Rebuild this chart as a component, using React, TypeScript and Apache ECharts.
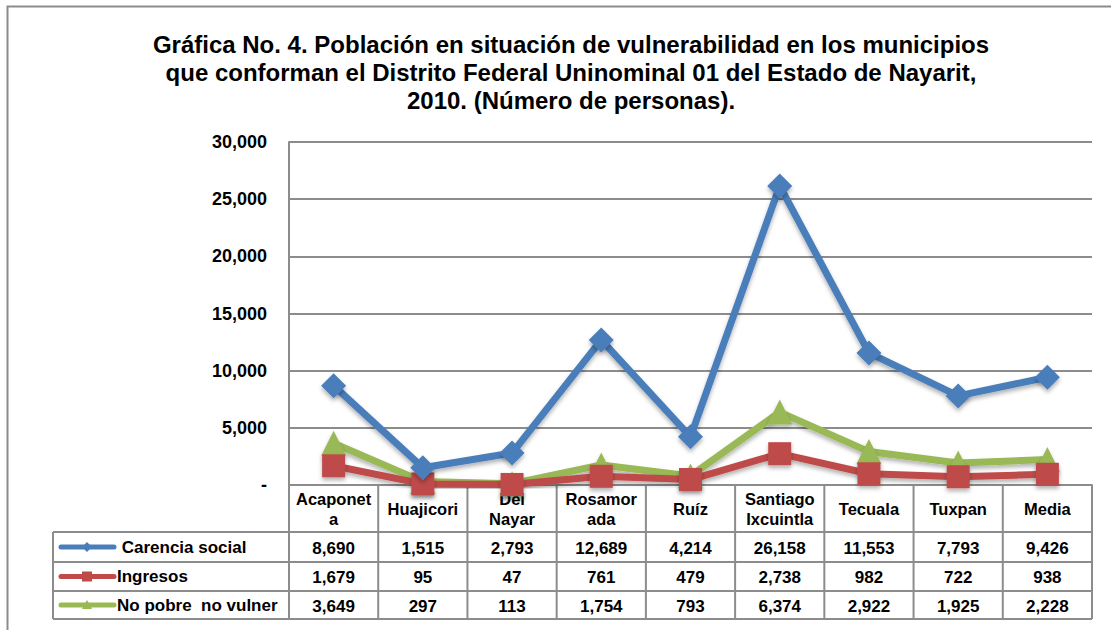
import React, { useEffect, useRef } from "react";
import * as echarts from "echarts";

const categories = ["Acaponet\na", "Huajicori", "Del\nNayar", "Rosamor\nada", "Ruíz", "Santiago\nIxcuintla", "Tecuala", "Tuxpan", "Media"];
const seriesNames = [" Carencia social", "Ingresos", "No pobre  no vulner"];
const carencia = [8690, 1515, 2793, 12689, 4214, 26158, 11553, 7793, 9426];
const ingresos = [1679, 95, 47, 761, 479, 2738, 982, 722, 938];
const noPobre = [3649, 297, 113, 1754, 793, 6374, 2922, 1925, 2228];
const titleText = "Gráfica No. 4. Población en situación de vulnerabilidad en los municipios\nque conforman el Distrito Federal Uninominal 01 del Estado de Nayarit,\n2010. (Número de personas).";

const colors = ["#4A7EBB", "#BE4B48", "#98B954"];
const symbols = ["diamond", "rect", "triangle"];

const fmt = (v: number) => (v === 0 ? "-" : v.toLocaleString("en-US"));

export default function App() {
  const ref = useRef<HTMLDivElement>(null);
  useEffect(() => {
    const chart = echarts.init(ref.current!, null, { renderer: "svg" });
    const W = 1111, H = 630;
    const left = 289, right = 1092, top = 142, bottom = 485;
    const rowLines = [532, 562, 591, 619];
    const tableLeft = 53;
    const allData = [carencia, ingresos, noPobre];
    const colW = (right - left) / categories.length;
    const gray = "#8C8C8C";
    const font = "Arial, 'Liberation Sans', sans-serif";

    const graphics: any[] = [];
    graphics.push({ type: "rect", shape: { x: 7.5, y: 6.5, width: 1200, height: 700 }, style: { fill: "none", stroke: gray, lineWidth: 2 }, silent: true, z: 0 });
    rowLines.forEach((y) => {
      graphics.push({ type: "line", shape: { x1: tableLeft, y1: y, x2: right, y2: y }, style: { stroke: gray, lineWidth: 2 }, z: 1 });
    });
    graphics.push({ type: "line", shape: { x1: tableLeft, y1: rowLines[0], x2: tableLeft, y2: rowLines[3] }, style: { stroke: gray, lineWidth: 2 }, z: 1 });
    for (let i = 0; i <= categories.length; i++) {
      const x = left + i * colW;
      graphics.push({ type: "line", shape: { x1: x, y1: i === 0 ? top : bottom, x2: x, y2: rowLines[3] }, style: { stroke: gray, lineWidth: 2 }, z: 1 });
    }
    allData.forEach((arr, r) => {
      const cy = (rowLines[r] + rowLines[r + 1]) / 2;
      graphics.push({ type: "line", shape: { x1: 61, y1: cy, x2: 114, y2: cy }, style: { stroke: colors[r], lineWidth: 5, lineCap: "round" }, z: 5 });
      if (r === 0) {
        graphics.push({ type: "polygon", shape: { points: [[87, cy - 5], [92, cy], [87, cy + 5], [82, cy]] }, style: { fill: colors[r] }, z: 6 });
      } else if (r === 1) {
        graphics.push({ type: "rect", shape: { x: 82, y: cy - 5, width: 10, height: 10 }, style: { fill: colors[r] }, z: 6 });
      } else {
        graphics.push({ type: "polygon", shape: { points: [[87, cy - 5], [92, cy + 4], [82, cy + 4]] }, style: { fill: colors[r] }, z: 6 });
      }
      graphics.push({ type: "text", x: 117, y: cy, style: { text: seriesNames[r], font: `bold 17px ${font}`, fill: "#000", verticalAlign: "middle", align: "left" }, z: 6 });
      arr.forEach((v, i) => {
        graphics.push({ type: "text", x: left + (i + 0.5) * colW, y: cy + 1, style: { text: fmt(v), font: `bold 17px ${font}`, fill: "#000", verticalAlign: "middle", align: "center" }, z: 6 });
      });
    });

    chart.setOption({
      animation: false,
      backgroundColor: "#fff",
      title: {
        text: titleText,
        left: 566,
        top: 25,
        textAlign: "center",
        textStyle: { fontFamily: font, fontWeight: "bold", fontSize: 24, lineHeight: 28, color: "#000" },
      },
      grid: { left, right: W - right, top, bottom: H - bottom, containLabel: false },
      xAxis: {
        type: "category",
        data: categories,
        boundaryGap: true,
        axisLine: { show: true, lineStyle: { color: gray, width: 2 } },
        axisTick: { show: false },
        axisLabel: {
          interval: 0,
          margin: 24,
          verticalAlign: "middle",
          lineHeight: 20,
          fontFamily: font,
          fontWeight: "bold",
          fontSize: 16.5,
          color: "#000",
        },
        z: 0,
      },
      yAxis: {
        type: "value",
        min: 0,
        max: 30000,
        interval: 5000,
        axisLine: { show: true, lineStyle: { color: gray, width: 2 } },
        axisTick: { show: false },
        splitLine: { show: true, lineStyle: { color: gray, width: 2 } },
        axisLabel: {
          margin: 22,
          formatter: (v: number) => fmt(v),
          fontFamily: font,
          fontWeight: "bold",
          fontSize: 18,
          color: "#000",
        },
      },
      graphic: graphics,
      series: allData.map((d, i) => ({
        name: seriesNames[i],
        type: "line",
        data: d,
        symbol: symbols[i],
        symbolSize: i === 1 ? 23 : 25,
        showAllSymbol: true,
        z: 10 - i,
        lineStyle: { color: colors[i], width: 7, shadowColor: "rgba(0,0,0,0.3)", shadowBlur: 4, shadowOffsetY: 3 },
        itemStyle: { color: colors[i], shadowColor: "rgba(0,0,0,0.3)", shadowBlur: 4, shadowOffsetY: 3 },
      })),
    });
    return () => chart.dispose();
  }, []);
  return <div ref={ref} style={{ position: "fixed", left: 0, top: 0, width: 1111, height: 630 }} />;
}
